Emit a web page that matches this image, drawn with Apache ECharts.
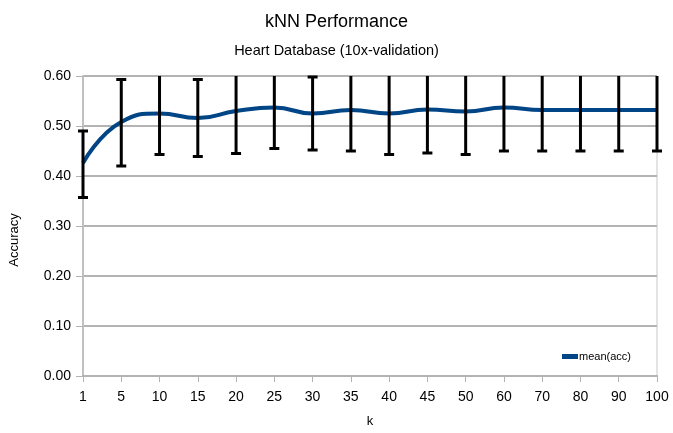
<!DOCTYPE html>
<html>
<head>
<meta charset="utf-8">
<script src="https://cdn.jsdelivr.net/npm/echarts@6/dist/echarts.min.js"></script>
<style>html,body{margin:0;padding:0;background:#fff}#c{width:673px;height:433px}</style>
</head>
<body>
<div id="c"></div>
<script>
const categories = ['1','5','10','15','20','25','30','35','40','45','50','60','70','80','90','100'];
const meanAcc = [0.426, 0.508, 0.525, 0.516, 0.530, 0.537, 0.525, 0.532, 0.525, 0.533, 0.529, 0.537, 0.532, 0.532, 0.532, 0.532];
const lowerAcc = [0.357, 0.420, 0.443, 0.439, 0.445, 0.455, 0.452, 0.450, 0.443, 0.446, 0.443, 0.450, 0.450, 0.450, 0.450, 0.450];
const upperAcc = [0.490, 0.593, 0.607, 0.593, 0.615, 0.619, 0.598, 0.614, 0.607, 0.620, 0.615, 0.624, 0.614, 0.614, 0.614, 0.614];

const chart = echarts.init(document.getElementById('c'), null, {renderer: 'canvas'});
const font = 'Liberation Sans, Arial, sans-serif';
chart.setOption({
  animation: false,
  textStyle: {fontFamily: font},
  title: [
    {text: 'kNN Performance', left: 'center', top: 8, textStyle: {fontSize: 18, fontWeight: 'normal', color: '#000', fontFamily: font}},
    {text: 'Heart Database (10x-validation)', left: 'center', top: 38, textStyle: {fontSize: 14.5, fontWeight: 'normal', color: '#000', fontFamily: font}}
  ],
  legend: {
    left: 557, top: 346, icon: 'rect', itemWidth: 16, itemHeight: 5, itemGap: 2,
    textStyle: {fontSize: 11, color: '#000', fontFamily: font, padding: [0,0,0,-4]},
    data: ['mean(acc)']
  },
  grid: {left: 83, right: 16, top: 76, bottom: 57, show: true, borderColor: '#c8c8c8', borderWidth: 1},
  xAxis: {
    type: 'category', data: categories, boundaryGap: false,
    name: 'k', nameLocation: 'middle', nameGap: 39,
    nameTextStyle: {fontSize: 13, color: '#000'},
    axisLine: {lineStyle: {color: '#b3b3b3', width: 2}},
    axisTick: {show: true, length: 6, lineStyle: {color: '#b3b3b3', width: 1}},
    axisLabel: {fontSize: 14, color: '#000', margin: 14},
    splitLine: {show: false}
  },
  yAxis: {
    type: 'value', min: 0, max: 0.6, interval: 0.1,
    name: 'Accuracy', nameLocation: 'middle', nameGap: 62, nameRotate: 90,
    nameTextStyle: {fontSize: 13, color: '#000', padding: [0,0,0,-28]},
    axisLine: {show: true, lineStyle: {color: '#c0c0c0', width: 2}},
    axisTick: {show: true, length: 7, lineStyle: {color: '#b3b3b3', width: 1}},
    axisLabel: {fontSize: 14, color: '#000', margin: 12, formatter: v => v.toFixed(2)},
    splitLine: {lineStyle: {color: '#b3b3b3', width: 2}}
  },
  series: [
    {
      name: 'mean(acc)', type: 'line', data: meanAcc, smooth: 0.5, symbol: 'none',
      lineStyle: {color: '#004586', width: 4}, itemStyle: {color: '#004586'}, z: 3
    },
    {
      name: 'err', type: 'custom', clip: false, z: 4,
      data: categories.map((c, i) => [i, lowerAcc[i], upperAcc[i]]),
      renderItem: function (params, api) {
        const x = api.value(0);
        const lo = api.coord([x, api.value(1)]);
        const hi = api.coord([x, api.value(2)]);
        const topY = params.coordSys.y;
        const hw = 5;
        const st = {stroke: '#000', lineWidth: 3};
        const children = [
          {type: 'line', shape: {x1: lo[0], y1: lo[1], x2: hi[0], y2: Math.max(hi[1], topY)}, style: st},
          {type: 'line', shape: {x1: lo[0]-hw, y1: lo[1], x2: lo[0]+hw, y2: lo[1]}, style: st}
        ];
        if (hi[1] >= topY) {
          children.push({type: 'line', shape: {x1: hi[0]-hw, y1: hi[1], x2: hi[0]+hw, y2: hi[1]}, style: st});
        }
        return {type: 'group', children: children};
      }
    }
  ]
});
</script>
</body>
</html>
